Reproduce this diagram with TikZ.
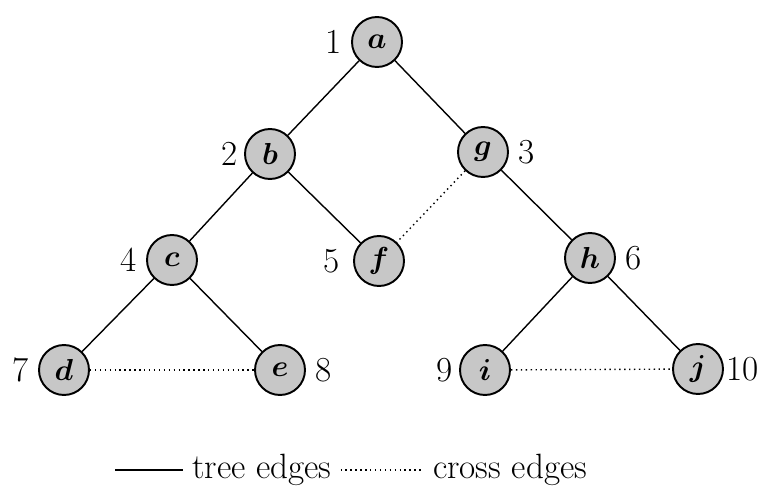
\documentclass[tikz,border=0pt]{standalone}
\usepackage{amsmath,amssymb}
\usepackage{tikz}
\usetikzlibrary{positioning}

\begin{document}
\begin{tikzpicture}[x=0.02cm,y=-0.02cm,font=\fontsize{20}{24}\selectfont]
\tikzset{vert/.style={circle,draw,line width=1.1pt,fill=black!22,minimum size=1cm,inner sep=0pt,font=\fontsize{18}{22}\selectfont},
  tedge/.style={line width=0.8pt},
  cedge/.style={line width=0.8pt,dotted},
  every label/.style={font=\fontsize{20}{24}\selectfont},
  label distance=2pt}
\useasboundingbox (0,0) rectangle (768,486);
\node[vert,label=left:1] (a) at (377,42) {$\boldsymbol{a}$};
\node[vert,label={[label distance=0pt]left:2}] (b) at (270,154) {$\boldsymbol{b}$};
\node[vert,label=right:3] (g) at (483,152) {$\boldsymbol{g}$};
\node[vert,label=left:4] (c) at (172,260) {$\boldsymbol{c}$};
\node[vert,label={[label distance=4pt]left:5}] (f) at (379,261) {$\boldsymbol{f}$};
\node[vert,label=right:6] (h) at (590,258) {$\boldsymbol{h}$};
\node[vert,label=left:7] (d) at (64,370) {$\boldsymbol{d}$};
\node[vert,label=right:8] (e) at (280,370) {$\boldsymbol{e}$};
\node[vert,label={[label distance=0pt]left:9}] (i) at (485,370) {$\boldsymbol{i}$};
\node[vert,label={[label distance=-2pt]right:10}] (j) at (698,369) {$\boldsymbol{j}$};
% tree edges
\foreach \u/\v in {a/b,a/g,b/c,b/f,g/h,c/d,c/e,h/i,h/j}{\draw[tedge] (\u) -- (\v);}
% cross edges
\foreach \u/\v in {g/f,d/e,i/j}{\draw[cedge] (\u) -- (\v);}
% legend
\coordinate (lgstart) at (115,470);
\node[anchor=west,inner sep=5pt] (tree) at (183,470) {tree edges};
\node[anchor=west,inner sep=5pt] (cross) at (424,470) {cross edges};
\draw[tedge] (lgstart) -- (tree.west);
\draw[cedge] (tree.east) -- (cross.west);
\end{tikzpicture}
\end{document}
